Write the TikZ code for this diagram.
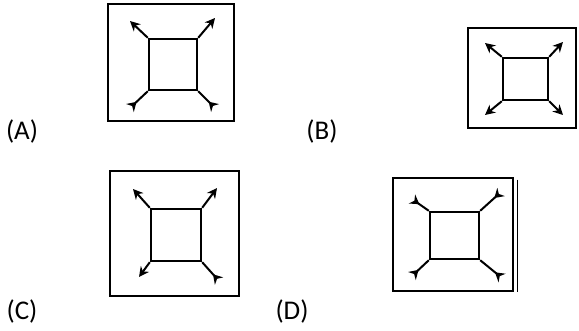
\documentclass[tikz,border=0pt]{standalone}
\usepackage{fontspec}
\setmainfont{Carlito}
\usetikzlibrary{arrows.meta}
\tikzset{
  every picture/.style={line width=2pt},
  frame/.style={draw, rectangle, inner sep=0pt, line width=2.6pt},
  sq/.style={draw, rectangle, inner sep=0pt, line width=2.4pt},
  outarr/.style={-{Stealth[length=10pt, width=10pt]}, line width=2pt},
  inarr/.style={-{Stealth[length=9pt, width=11pt, reversed]}, line width=2pt},
  lab/.style={font=\fontsize{27}{30}\selectfont, anchor=center},
}
\begin{document}
\begin{tikzpicture}[x=1pt, y=-1pt]
\useasboundingbox (0,0) rectangle (579,330);
% (A)
\node[lab] (lA) at (22,131) {(A)};
\node[frame, minimum width=126pt, minimum height=117pt] (fA) at (171,62.5) {};
\node[sq, minimum width=48pt, minimum height=51pt] (sA) at (173,64.5) {};
\coordinate (a1) at (130,21); \coordinate (a2) at (215,18);
\coordinate (a3) at (130,108); \coordinate (a4) at (215,108);
\draw[outarr] (sA.north west) -- (a1);
\draw[outarr] (sA.north east) -- (a2);
\draw[inarr] (sA.south west) -- (a3);
\draw[inarr] (sA.south east) -- (a4);
% (B)
\node[lab] (lB) at (322,131) {(B)};
\node[frame, minimum width=108pt, minimum height=100pt] (fB) at (522,78) {};
\node[sq, minimum width=45pt, minimum height=42pt] (sB) at (525.5,79) {};
\coordinate (b1) at (485,43); \coordinate (b2) at (563,42);
\coordinate (b3) at (485,115); \coordinate (b4) at (563,115);
\draw[outarr] (sB.north west) -- (b1);
\draw[outarr] (sB.north east) -- (b2);
\draw[outarr] (sB.south west) -- (b3);
\draw[outarr] (sB.south east) -- (b4);
% (C)
\node[lab] (lC) at (22,311) {(C)};
\node[frame, minimum width=129pt, minimum height=125pt] (fC) at (174.5,233.5) {};
\node[sq, minimum width=50pt, minimum height=52pt] (sC) at (176,235) {};
\coordinate (c1) at (133,189); \coordinate (c2) at (217,188);
\coordinate (c3) at (139,277); \coordinate (c4) at (219,281);
\draw[outarr] (sC.north west) -- (c1);
\draw[outarr] (sC.north east) -- (c2);
\draw[outarr] (sC.south west) -- (c3);
\draw[inarr] (sC.south east) -- (c4);
% (D)
\node[lab] (lD) at (292,311) {(D)};
\node[frame, minimum width=120pt, minimum height=113pt] (fD) at (453,234.5) {};
\draw[line width=1.6pt] ([shift={(3pt,-3pt)}]fD.north east) -- ([xshift=3pt]fD.south east);
\node[sq, minimum width=49pt, minimum height=47pt] (sD) at (454.5,235.5) {};
\coordinate (d1) at (412,199); \coordinate (d2) at (501,192);
\coordinate (d3) at (412,276); \coordinate (d4) at (502,278);
\draw[inarr] (sD.north west) -- (d1);
\draw[inarr] (sD.north east) -- (d2);
\draw[inarr] (sD.south west) -- (d3);
\draw[inarr] (sD.south east) -- (d4);
\end{tikzpicture}
\end{document}
